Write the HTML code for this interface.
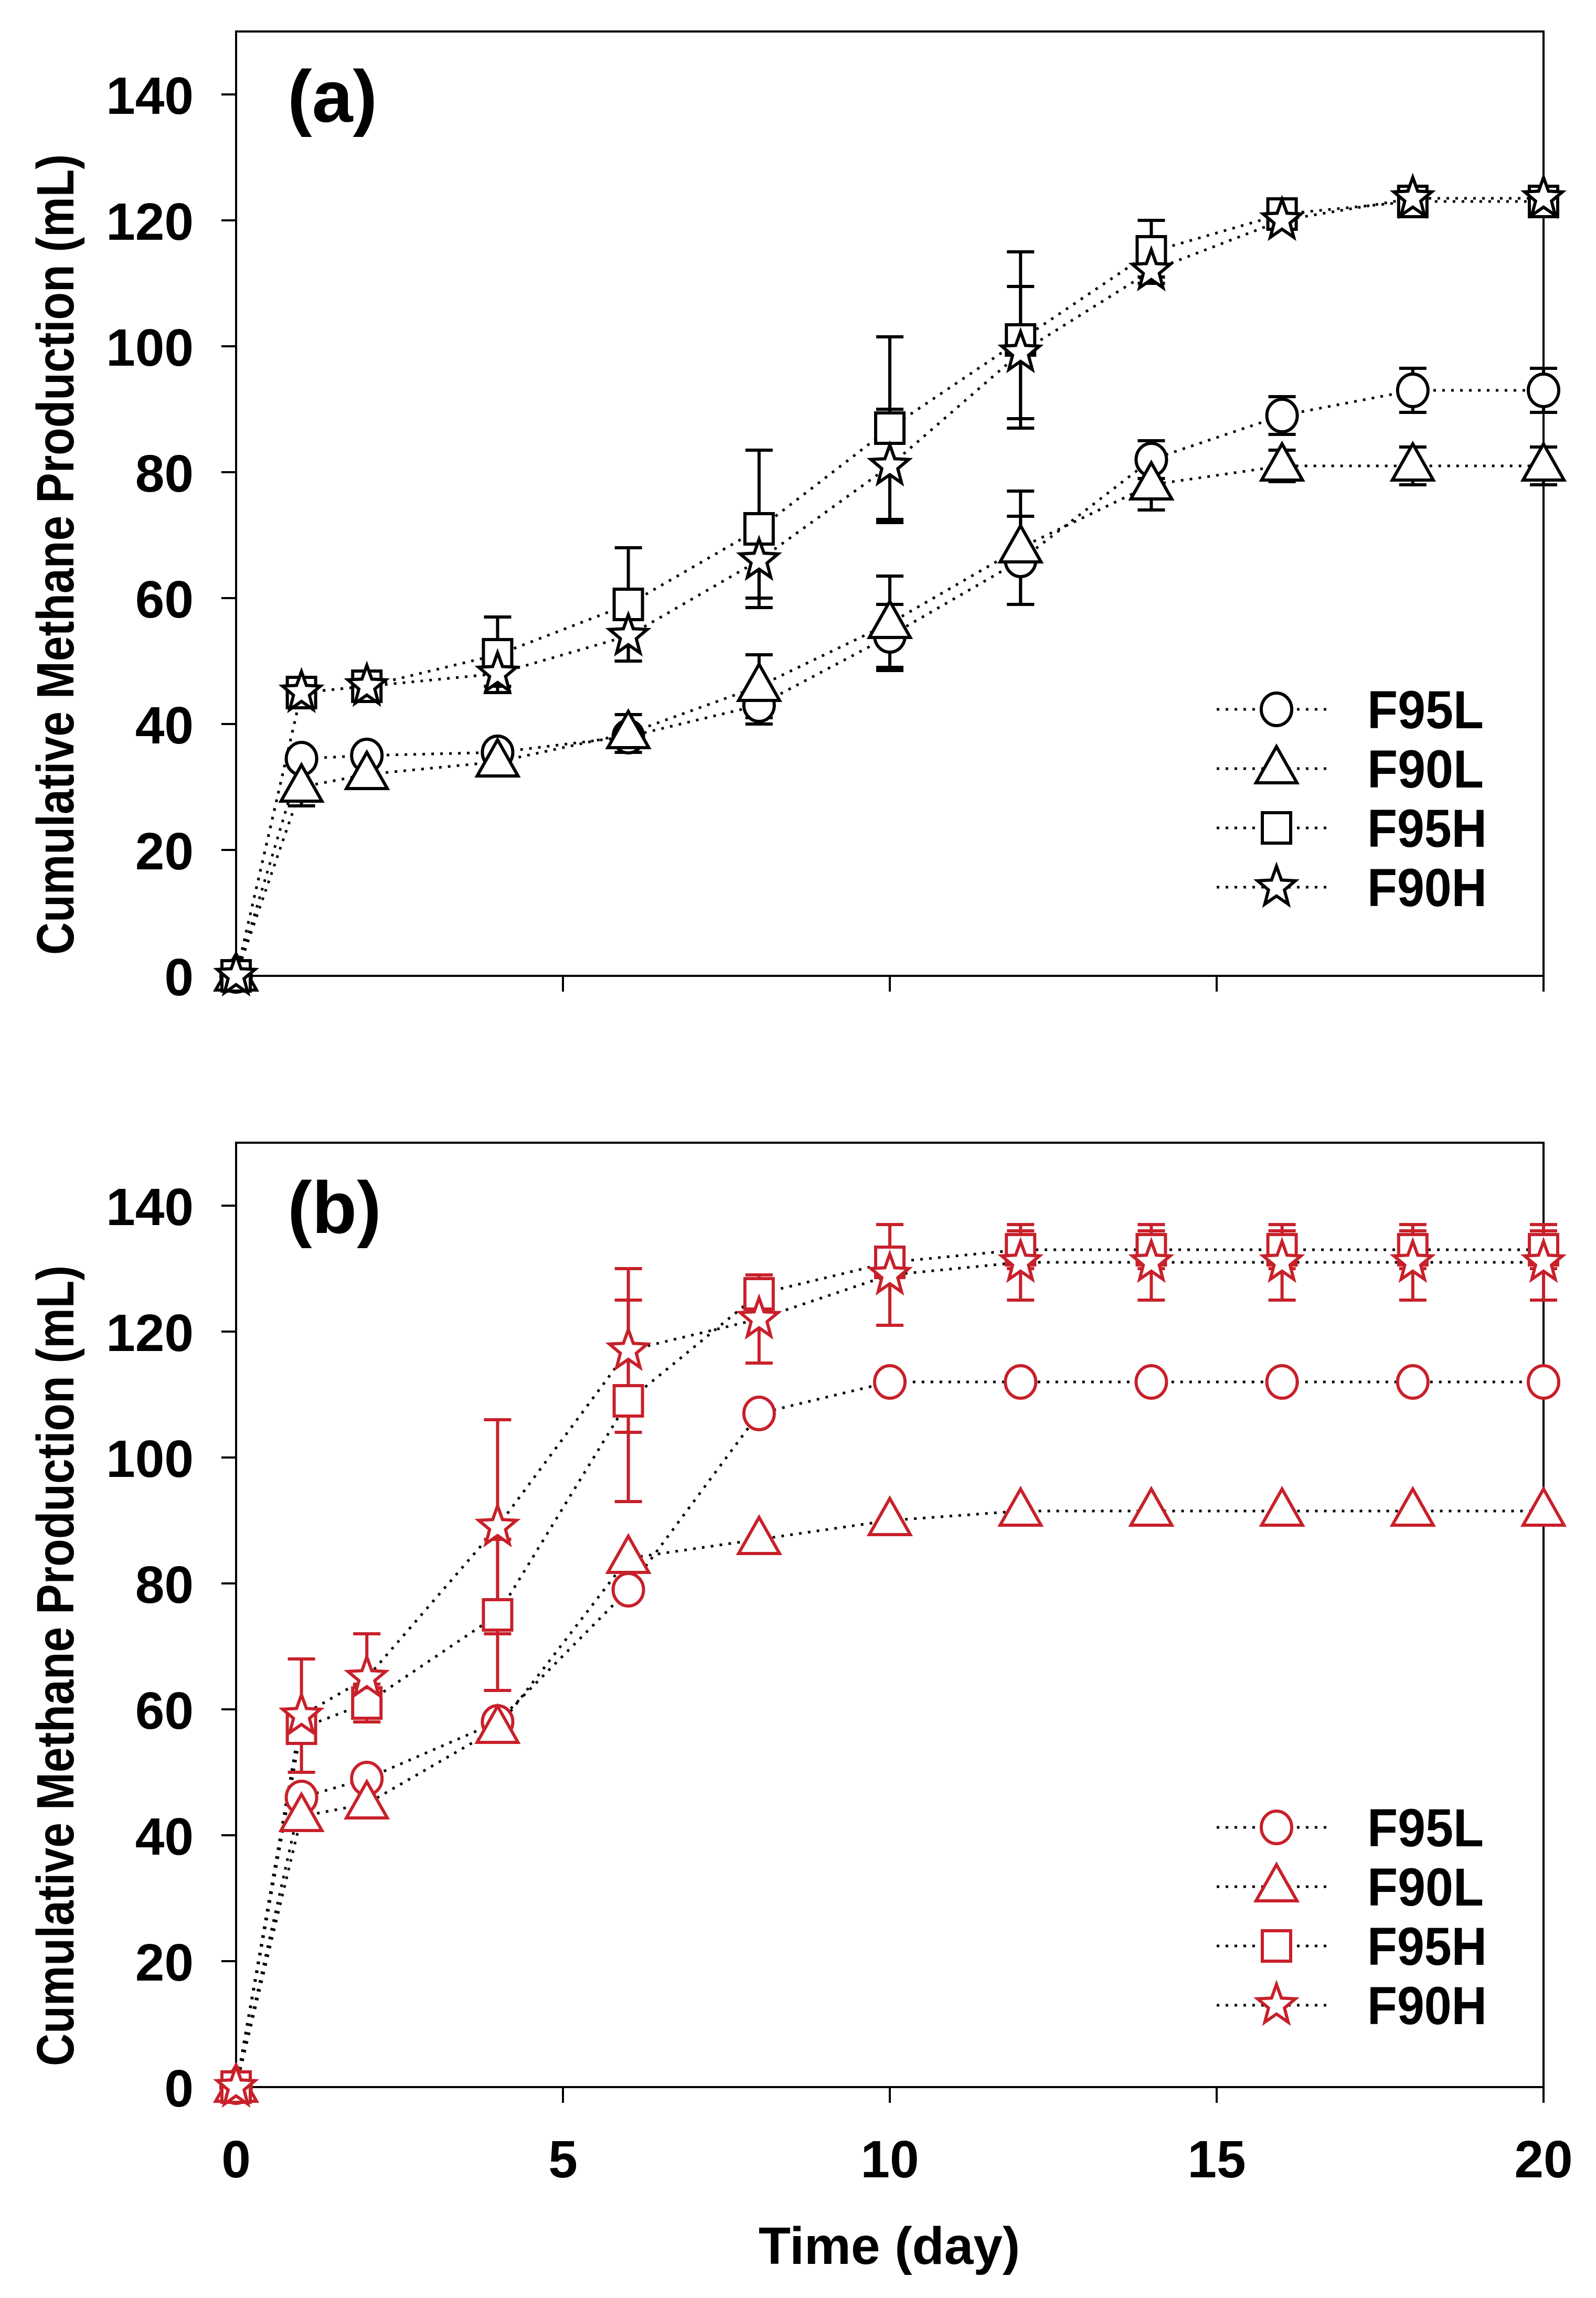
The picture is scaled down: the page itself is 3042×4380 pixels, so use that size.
<!DOCTYPE html>
<html><head><meta charset="utf-8"><style>
html,body{margin:0;padding:0;background:#fff;}
svg{display:block;}
text{font-family:"Liberation Sans",Arial,sans-serif;font-weight:bold;fill:#000;}
</style></head><body>
<svg id="chart" width="3042" height="4380" viewBox="0 0 3042 4380" xmlns="http://www.w3.org/2000/svg"></svg>
<script>
const days = [0,1,2,4,6,8,10,12,14,16,18,20];
const seriesNames = ["F95L","F90L","F95H","F90H"];
const xTicks = [0,5,10,15,20];
const yTicks = [0,20,40,60,80,100,120,140];
// Panel (a)
const aF95L = [0,34.5,35,35.5,38,43,54,66,82,89,93,93];
const aF95LErr = [0,1,1,1,1.5,3,5,7,3,3,3.5,3.5];
const aF90L = [0,30,32,34,38.5,46,56,68,78,81,81,81];
const aF90LErr = [0,3,0,0,3,5,7.5,9,4,2.5,3,3];
const aF95H = [0,45,46,51,59,71,87,101,115,121,123,123];
const aF95HErr = [0,1,1,6,9,12.5,14.5,14,5,1,1,1];
const aF90H = [0,45,46,48,54,66,81,99,112,120,123.5,123.5];
const aF90HErr = [0,1,1,2,4,6,9,10.5,1,1,0.5,0.5];
// Panel (b)
const bF95L = [0,46,49,58,79,107,112,112,112,112,112,112];
const bF95LErr = [0,0,0,0,0,0,0,0,0,0,0,0];
const bF90L = [0,43,45,57,84,87,90,91.5,91.5,91.5,91.5,91.5];
const bF90LErr = [0,0,0,0,0,0,0,0,0,0,0,0];
const bF95H = [0,57,61,75,109,126,131,133,133,133,133,133];
const bF95HErr = [0,2,3,12,16,3,2,3,3,3,3,3];
const bF90H = [0,59,65,89,117,122,129,131,131,131,131,131];
const bF90HErr = [0,9,7,17,13,7,8,6,6,6,6,6];

const NS="http://www.w3.org/2000/svg";
const svg=document.getElementById('chart');
function el(tag,attrs,parent){const e=document.createElementNS(NS,tag);for(const k in attrs)e.setAttribute(k,attrs[k]);(parent||svg).appendChild(e);return e;}

const X0=450,X1=2942;
function xs(v){return X0+(X1-X0)*v/20;}
function makeY(bottom){return v=>bottom-12*v;}

function marker(g,type,cx,cy,color){
  let m;
  if(type==="F95L"){m=el('ellipse',{cx:cx,cy:cy,rx:29,ry:31,fill:'#fff',stroke:color,'stroke-width':6},g);}
  else if(type==="F90L"){m=el('polygon',{points:`${cx},${cy-42} ${cx+39},${cy+27} ${cx-39},${cy+27}`,fill:'#fff',stroke:color,'stroke-width':6},g);}
  else if(type==="F95H"){m=el('rect',{x:cx-27,y:cy-29,width:54,height:58,fill:'#fff',stroke:color,'stroke-width':6},g);}
  else {let pts=[];for(let i=0;i<10;i++){const r=i%2?16:38;const a=-Math.PI/2+i*Math.PI/5;pts.push((cx+r*Math.cos(a)).toFixed(1)+','+(cy+r*Math.sin(a)*1.05).toFixed(1));}
    m=el('polygon',{points:pts.join(' '),fill:'#fff',stroke:color,'stroke-width':6},g);}
  
  
  return m;
}

function panel(id,bottom,label,data,color,legendY,showXLabels){
  const ys=makeY(bottom);
  const top=bottom-1800;
  const g=el('g',{});
  
  
  const frame=el('rect',{x:X0,y:top,width:X1-X0,height:1800,fill:'none',stroke:'#000','stroke-width':4},g);
  
  
  yTicks.forEach(t=>{
    const tk=el('line',{x1:X0-28,x2:X0,y1:ys(t),y2:ys(t),stroke:'#000','stroke-width':4},g);
    
    
    const tl=el('text',{x:369,y:ys(t)+37,'text-anchor':'end','font-size':100},g);
    tl.textContent=t;
    
    
  });
  xTicks.forEach(t=>{
    const tk=el('line',{x1:xs(t),x2:xs(t),y1:bottom,y2:bottom+30,stroke:'#000','stroke-width':4},g);
    
    
    if(showXLabels){
      const tl=el('text',{x:xs(t),y:4150,'text-anchor':'middle','font-size':100},g);
      tl.textContent=t;
      
      
    }
  });
  const yt=el('text',{x:0,y:0,'text-anchor':'middle','font-size':100,textLength:1526,lengthAdjust:'spacingAndGlyphs',transform:`translate(140,${bottom-803}) rotate(-90)`},g);
  yt.textContent="Cumulative Methane Production (mL)";
  
  
  const pl=el('text',{x:548,y:top+172,'font-size':140},g);
  pl.textContent=label;
  
  
  data.forEach(s=>{
    const pts=days.map((d,i)=>xs(d)+','+ys(s.v[i])).join(' ');
    const ln=el('polyline',{points:pts,fill:'none',stroke:'#000','stroke-width':5,'stroke-dasharray':'5 12'},g);
    
    
  });
  data.forEach(s=>{
    days.forEach((d,i)=>{
      const e=s.e[i]; if(!e) return;
      const x=xs(d),y1=ys(s.v[i]+e),y2=ys(s.v[i]-e);
      const eb=el('path',{d:`M${x},${y1}V${y2}M${x-26},${y1}H${x+26}M${x-26},${y2}H${x+26}`,stroke:color,'stroke-width':6,fill:'none'},g);
      
      
    });
  });
  data.forEach(s=>{
    days.forEach((d,i)=>marker(g,s.n,xs(d),ys(s.v[i]),color));
  });
  seriesNames.forEach((n,i)=>{
    const y=legendY+i*113;
    const lg=el('g',{},g);
    
    
    el('line',{x1:2319,x2:2534,y1:y,y2:y,stroke:'#000','stroke-width':5,'stroke-dasharray':'5 12'},lg);
    marker(lg,n,2433,y,color);
    const t=el('text',{x:2606,y:y+36,'font-size':102,textLength:n.endsWith('H')?228:222,lengthAdjust:'spacingAndGlyphs'},lg);
    t.textContent=n;
  });
}

panel('a',1860,'(a)',[
  {n:"F95L",v:aF95L,e:aF95LErr},{n:"F90L",v:aF90L,e:aF90LErr},
  {n:"F95H",v:aF95H,e:aF95HErr},{n:"F90H",v:aF90H,e:aF90HErr}],'#000',1352,false);
panel('b',3978,'(b)',[
  {n:"F95L",v:bF95L,e:bF95LErr},{n:"F90L",v:bF90L,e:bF90LErr},
  {n:"F95H",v:bF95H,e:bF95HErr},{n:"F90H",v:bF90H,e:bF90HErr}],'#c8202a',3483,true);

const xt=el('text',{x:1695,y:4315,'text-anchor':'middle','font-size':100});
xt.textContent="Time (day)";


</script>
</body></html>
